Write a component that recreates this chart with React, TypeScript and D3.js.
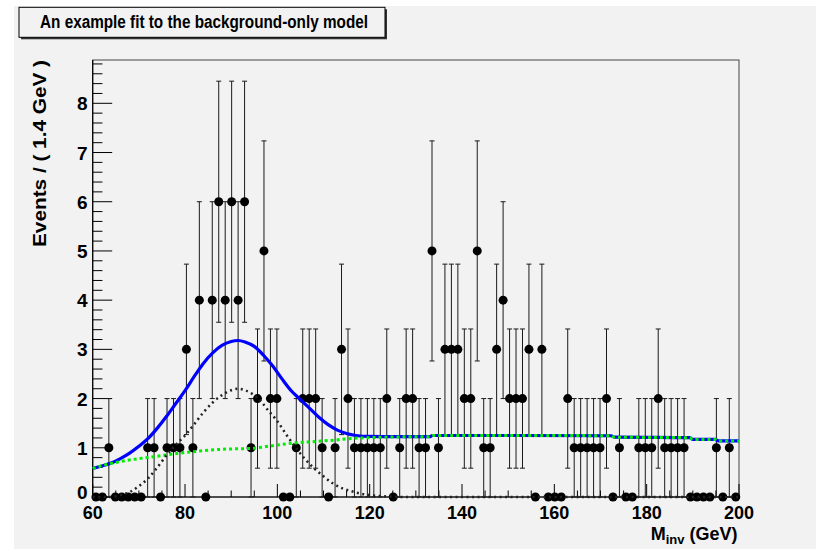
import React from 'react';
import * as d3 from 'd3';

const TITLE = 'An example fit to the background-only model';
const X_TITLE_MAIN = 'M';
const X_TITLE_SUB = 'inv';
const X_TITLE_UNIT = ' (GeV)';
const Y_TITLE = 'Events / ( 1.4 GeV )';

const X_MIN = 60;
const X_MAX = 200;
const BIN_WIDTH = 1.4;
const Y_MAX = 8.88;

// observed event counts per 1.4 GeV bin (60 -> 200 GeV, 100 bins)
const counts = [
  0, 0, 1, 0, 0, 0, 0, 0, 1, 1,
  0, 1, 1, 1, 3, 1, 4, 0, 4, 6,
  4, 6, 4, 6, 1, 2, 5, 2, 2, 0,
  0, 1, 2, 2, 2, 1, 0, 1, 3, 2,
  1, 1, 1, 1, 1, 2, 0, 1, 2, 2,
  1, 1, 5, 1, 3, 3, 3, 2, 2, 5,
  1, 1, 3, 4, 2, 2, 2, 3, 0, 3,
  0, 0, 0, 2, 1, 1, 1, 1, 1, 2,
  0, 1, 0, 0, 1, 1, 1, 2, 1, 1,
  1, 1, 0, 0, 0, 0, 1, 0, 1, 0,
];

const xTicksMajor = [60, 80, 100, 120, 140, 160, 180, 200];
const yTicksMajor = [0, 1, 2, 3, 4, 5, 6, 7, 8];

// total fit (blue)
const totalX = [60, 62, 64, 66, 68, 70, 72, 74, 76, 78, 80, 82, 84, 86, 88, 90, 91.5, 93, 95, 97, 99, 101, 103, 105, 107, 109, 111, 113, 115, 117, 120, 125, 133, 133.6, 150, 172.3, 173, 182, 189.3, 190, 194.8, 195.5, 200];
const totalY = [0.58, 0.63, 0.69, 0.78, 0.89, 1.03, 1.19, 1.4, 1.64, 1.9, 2.16, 2.45, 2.72, 2.93, 3.08, 3.16, 3.18, 3.15, 3.06, 2.88, 2.66, 2.4, 2.16, 1.98, 1.8, 1.62, 1.47, 1.36, 1.29, 1.25, 1.23, 1.225, 1.225, 1.25, 1.25, 1.245, 1.215, 1.21, 1.205, 1.17, 1.17, 1.14, 1.14];

// background component (green dotted)
const bgX = [60, 63, 66, 70, 73.4, 77, 80.6, 84, 88, 94.5, 98, 101.9, 107, 112.8, 116, 120, 125, 133, 133.6, 150, 172.3, 173, 182, 189.3, 190, 194.8, 195.5, 200];
const bgY = [0.58, 0.66, 0.72, 0.78, 0.82, 0.87, 0.91, 0.94, 0.97, 0.99, 1.03, 1.08, 1.12, 1.16, 1.19, 1.205, 1.22, 1.225, 1.25, 1.25, 1.245, 1.215, 1.21, 1.205, 1.17, 1.17, 1.14, 1.14];

// signal component (black dotted)
const sigX = [60, 64, 66, 68, 70, 72, 74, 76, 78, 80, 82, 84, 86, 88, 90, 91.5, 93, 94.8, 96.5, 98, 100, 102, 104, 106, 108, 110, 112, 114, 116, 118, 120, 124, 128, 200];
const sigY = [0, 0.0, 0.04, 0.1, 0.22, 0.38, 0.6, 0.85, 1.06, 1.25, 1.48, 1.72, 1.92, 2.07, 2.17, 2.2, 2.17, 2.08, 1.94, 1.76, 1.54, 1.26, 1.0, 0.77, 0.58, 0.42, 0.28, 0.18, 0.12, 0.07, 0.04, 0.01, 0, 0];

const W = 816;
const H = 549;
const M = { left: 92.7, right: 739, top: 60, bottom: 497 };
const FONT = 'Liberation Sans, Arial, Helvetica, sans-serif';

export default function App() {
  const x = d3.scaleLinear().domain([X_MIN, X_MAX]).range([M.left, M.right]);
  const y = d3.scaleLinear().domain([0, Y_MAX]).range([M.bottom, M.top]);

  const bins = counts.map((n, i) => ({ c: X_MIN + BIN_WIDTH * (i + 0.5), n }));

  const line = d3
    .line<[number, number]>()
    .x((d) => x(d[0]))
    .y((d) => y(d[1]))
    .curve(d3.curveMonotoneX);

  const totalPath = line(totalX.map((v, i) => [v, totalY[i]]) as [number, number][]) || '';
  const bgPath = line(bgX.map((v, i) => [v, bgY[i]]) as [number, number][]) || '';
  const sigPath = line(sigX.map((v, i) => [v, sigY[i]]) as [number, number][]) || '';

  const yMinor = d3.range(0, Y_MAX + 1e-9, 0.2).map((v) => Math.round(v * 10) / 10);
  const xMinor = d3.range(X_MIN, X_MAX + 1e-9, 5);

  const xMajLen = 13;
  const yMajLen = 19.5;

  return (
    <svg
      width={W}
      height={H}
      style={{ position: 'absolute', left: 0, top: 0, display: 'block' }}
      fontFamily={FONT}
    >
      <rect x={0} y={0} width={W} height={H} fill="#ffffff" />
      <rect x={14} y={6} width={W - 14} height={H - 6} fill="#f2f2f2" />

      {/* title box */}
      <rect x={21} y={9.3} width={366} height={30} fill="#333" />
      <rect x={19} y={7.3} width={366} height={30} fill="#f2f2f2" stroke="#000" strokeWidth={1} />
      <text
        x={40}
        y={28}
        fontSize={18}
        fontWeight="bold"
        textLength={328}
        lengthAdjust="spacingAndGlyphs"
        fill="#000"
      >
        {TITLE}
      </text>

      {/* frame */}
      <rect
        x={M.left}
        y={M.top}
        width={M.right - M.left}
        height={M.bottom - M.top}
        fill="#f2f2f2"
        stroke="#444"
        strokeWidth={1}
      />

      {/* y ticks */}
      {yMinor.map((v) => {
        const major = Math.abs(v - Math.round(v)) < 1e-6;
        return (
          <line
            key={'ym' + v}
            x1={M.left}
            x2={M.left + (major ? yMajLen : yMajLen / 2)}
            y1={y(v)}
            y2={y(v)}
            stroke="#000"
            strokeWidth={1}
          />
        );
      })}
      {yTicksMajor.map((v) => (
        <text
          key={'yl' + v}
          x={87.5}
          y={v === 0 ? y(v) + 2 : y(v) + 7}
          textAnchor="end"
          fontSize={19}
          fontWeight="bold"
          fill="#000"
        >
          {v}
        </text>
      ))}

      {/* x ticks */}
      {xMinor.map((v) => {
        const major = xTicksMajor.includes(v);
        return (
          <line
            key={'xm' + v}
            x1={x(v)}
            x2={x(v)}
            y1={M.bottom}
            y2={M.bottom - (major ? xMajLen : xMajLen / 2)}
            stroke="#000"
            strokeWidth={1}
          />
        );
      })}
      {xTicksMajor.map((v) => (
        <text
          key={'xl' + v}
          x={x(v)}
          y={519}
          textAnchor="middle"
          fontSize={18}
          fontWeight="bold"
          fill="#000"
        >
          {v}
        </text>
      ))}

      {/* axis lines */}
      <line x1={M.left} x2={M.left} y1={M.top} y2={M.bottom} stroke="#000" strokeWidth={1.2} />
      <line x1={M.left} x2={M.right} y1={M.bottom} y2={M.bottom} stroke="#000" strokeWidth={1.2} />

      {/* axis titles */}
      <text x={737.5} y={540} textAnchor="end" fontSize={18} fontWeight="bold" fill="#000">
        {X_TITLE_MAIN}
        <tspan fontSize={13} dy={3.5}>
          {X_TITLE_SUB}
        </tspan>
        <tspan fontSize={18} dy={-3.5}>
          {X_TITLE_UNIT}
        </tspan>
      </text>
      <text
        transform={`translate(45.5, ${M.top}) rotate(-90)`}
        textAnchor="end"
        fontSize={18}
        fontWeight="bold"
        textLength={187}
        lengthAdjust="spacingAndGlyphs"
        fill="#000"
      >
        {Y_TITLE}
      </text>

      {/* data error bars */}
      <g stroke="#1a1a1a" strokeWidth={1}>
        {bins
          .filter((b) => b.n > 0)
          .map((b, i) => {
            const e = Math.sqrt(b.n);
            const cx = x(b.c);
            const y1 = y(b.n - e);
            const y2 = y(b.n + e);
            return (
              <g key={'eb' + i}>
                <line x1={cx} x2={cx} y1={y1} y2={y2} />
                <line x1={cx - 2.5} x2={cx + 2.5} y1={y1} y2={y1} />
                <line x1={cx - 2.5} x2={cx + 2.5} y1={y2} y2={y2} />
              </g>
            );
          })}
      </g>
      {/* data points */}
      {bins.map((b, i) => (
        <circle key={'pt' + i} cx={x(b.c)} cy={y(b.n)} r={4.5} fill="#000" />
      ))}

      {/* curves */}
      <path d={totalPath} fill="none" stroke="#0000ff" strokeWidth={3.2} />
      <path d={bgPath} fill="none" stroke="#00ee00" strokeWidth={3} strokeDasharray="3,3" />
      <path d={sigPath} fill="none" stroke="#222" strokeWidth={2.5} strokeDasharray="2,3.5" />
    </svg>
  );
}
